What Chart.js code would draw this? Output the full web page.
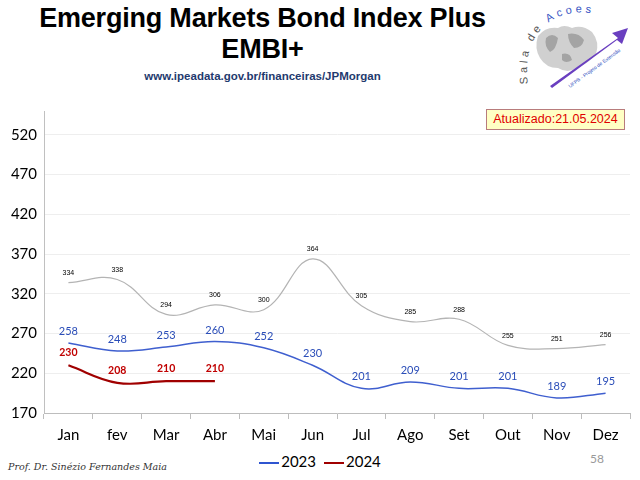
<!DOCTYPE html>
<html>
<head>
<meta charset="utf-8">
<script src="https://cdn.jsdelivr.net/npm/chart.js@4.4.1/dist/chart.umd.min.js"></script>
<style>
  body{margin:0;width:640px;height:480px;background:#fff;position:relative;overflow:hidden;font-family:'Liberation Sans',Arial,sans-serif}
  .ttl{position:absolute;left:0;width:525px;text-align:center;font-weight:bold;color:#000;letter-spacing:-0.2px}
  #t1{top:3px;font-size:27px}
  #t2{top:34px;font-size:27px}
  #url{position:absolute;left:0;width:525px;top:70px;text-align:center;font-size:11.5px;font-weight:bold;color:#1f3a6e}
  #upd{position:absolute;left:486px;top:109px;width:139px;height:21px;box-sizing:border-box;background:#ffffc4;border:1px solid #b87c7c;color:#e00000;font-size:12.5px;line-height:19px;text-align:center}
  #wrap{position:absolute;left:0;top:95px;width:640px;height:356px}
  #leg{position:absolute;top:452px;left:0;width:640px;text-align:center;font-family:Lato,sans-serif;font-size:15px;color:#000}
  #leg span{display:inline-block;margin:0 4px}
  #leg i{display:inline-block;width:20px;vertical-align:middle;margin-right:2px}
  #prof{position:absolute;left:8px;top:461px;font-family:'DejaVu Serif',serif;font-style:italic;font-size:9.5px;color:#333}
  #pg{position:absolute;left:590px;top:451px;font-family:Lato,sans-serif;font-size:12px;color:#999}
  #logo{position:absolute;left:512px;top:2px}
</style>
</head>
<body>
<div class="ttl" id="t1">Emerging Markets Bond Index Plus</div>
<div class="ttl" id="t2">EMBI+</div>
<div id="url">www.ipeadata.gov.br/financeiras/JPMorgan</div>
<svg id="logo" width="125" height="92" viewBox="0 0 125 92">
  <path d="M26 34 Q34 24 46 26 Q52 22 60 26 Q70 22 80 30 Q88 40 84 52 Q76 62 64 66 Q56 72 46 66 Q34 66 28 56 Q22 46 26 34 Z" fill="#d0d0d0"/>
  <path d="M34 36 Q40 30 46 36 Q44 48 38 50 Q32 44 34 36 Z M56 32 Q66 30 72 38 Q70 46 62 46 Q56 40 56 32 Z M50 52 Q58 50 60 58 Q54 62 50 58 Z" fill="#a4a4a4"/>
  <defs><path id="arc" d="M16 82 Q10 34 44 16 Q66 6 92 14"/></defs>
  <text font-family="Liberation Sans,Arial" font-size="11" fill="#555" letter-spacing="3.5"><textPath href="#arc">Sala de <tspan fill="#3b57c4">Acoes</tspan></textPath></text>
  <path d="M38 84 L106 36 L100 31 L116 26 L110 42 L105 38 L40 86 Z" fill="#6a3fc0"/>
  <text x="58" y="86" font-size="5" fill="#3050c0" transform="rotate(-36 58 86)">UFPB - Projeto de Extensão</text>
</svg>
<div id="upd">Atualizado:21.05.2024</div>
<div id="wrap"><canvas id="c"></canvas></div>
<div id="leg"><span><i style="height:2px;background:#2f55d0"></i>2023</span><span><i style="height:2px;background:#a00000"></i>2024</span></div>
<div id="prof">Prof. Dr. Sinézio Fernandes Maia</div>
<div id="pg">58</div>
<script>
const months=['Jan','fev','Mar','Abr','Mai','Jun','Jul','Ago','Set','Out','Nov','Dez'];
const s2022=[334,338,294,306,300,364,305,285,288,255,251,256];
const s2023=[258,248,253,260,252,230,201,209,201,201,189,195];
const s2024=[230,208,210,210];
const yTicks=[170,220,270,320,370,420,470,520];

/* ─ data labels ─ */
const ptLabels={
  id:'ptLabels',
  afterDatasetsDraw(chart){
    const ctx=chart.ctx;
    chart.data.datasets.forEach((ds,i)=>{
      const meta=chart.getDatasetMeta(i);
      ctx.save();
      ctx.font=ds.lblFont;ctx.fillStyle=ds.lblColor;
      ctx.textAlign='center';ctx.textBaseline='bottom';
      meta.data.forEach((p,j)=>ctx.fillText(ds.data[j],p.x,p.y-ds.lblOff));
      ctx.restore();
    });
  }
};

new Chart(document.getElementById('c'),{
  type:'line',
  data:{
    labels:months,
    datasets:[
      {label:'2022',data:s2022,borderColor:'#b4b4b4',borderWidth:1.2,tension:0.4,pointRadius:0,
        lblFont:"7px 'Liberation Sans',Arial",lblColor:'#000',lblOff:6},
      {label:'2023',data:s2023,borderColor:'#3f5fcf',borderWidth:1.5,tension:0.4,pointRadius:0,
        lblFont:"11px Lato,sans-serif",lblColor:'#2a4db8',lblOff:6},
      {label:'2024',data:s2024,borderColor:'#a00000',borderWidth:2.2,tension:0.4,pointRadius:0,
        lblFont:"bold 10.5px Lato,sans-serif",lblColor:'#c00000',lblOff:7}
    ]
  },
  options:{
    responsive:true,maintainAspectRatio:false,animation:false,
    layout:{padding:{top:13,right:10,left:0,bottom:0}},
    plugins:{legend:{display:false},tooltip:{enabled:false}},
    scales:{
      y:{
        min:170,max:550,
        afterBuildTicks:s=>{s.ticks=yTicks.map(v=>({value:v}))},
        afterFit:s=>{s.width=44},
        grid:{color:'#eeeeee',drawTicks:false},
        border:{color:'#c0c0c0'},
        ticks:{color:'#000',font:{family:'Lato',size:15},padding:7}
      },
      x:{
        offset:true,
        afterFit:s=>{s.height=38},
        grid:{offset:true,drawOnChartArea:false,color:'#bdbdbd',tickLength:6},
        border:{color:'#bdbdbd'},
        ticks:{color:'#000',font:{family:'Lato',size:15},padding:7}
      }
    }
  },
  plugins:[ptLabels]
});
</script>
</body>
</html>
